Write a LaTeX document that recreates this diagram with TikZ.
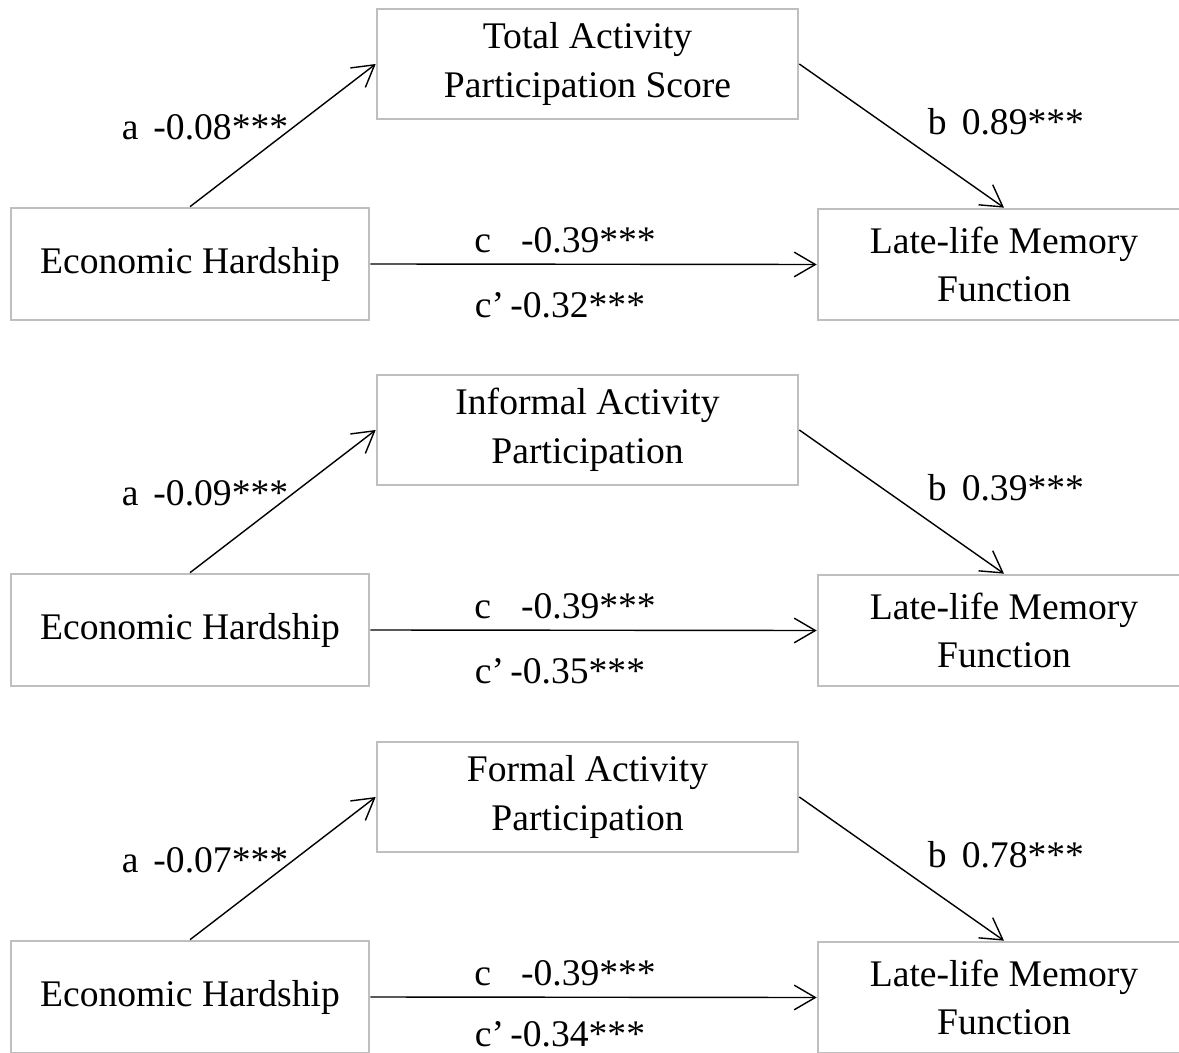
\documentclass[tikz,border=0pt]{standalone}
\usepackage{fontspec}
\setmainfont{Liberation Serif}
\usetikzlibrary{arrows.meta}
\begin{document}
\begin{tikzpicture}[x=0.02cm,y=-0.02cm,
  box/.style={draw=black!25,line width=1.5pt,fill=white,align=center,inner sep=0pt,
    font=\fontsize{21.4}{27.8}\selectfont},
  medbox/.style={box,minimum width=421*0.02cm,minimum height=110*0.02cm},
  ehbox/.style={box,minimum width=358*0.02cm,minimum height=112*0.02cm},
  lmbox/.style={box,minimum width=372*0.02cm,minimum height=111*0.02cm},
  path/.style={draw=black,line width=0.8pt,-{Straight Barb[length=12pt,width=14pt,line width=0.8pt]}},
  lab/.style={font=\fontsize{21.4}{27.8}\selectfont,inner sep=0pt}]
\useasboundingbox (0,0) rectangle (1179,1053);
\fill[white] (0,0) rectangle (1179,1053);
\clip (0,0) rectangle (1179,1053);
\foreach \i/\dy/\med/\va/\vb/\vcp/\ycp in {
  1/0/{Total Activity\\Participation Score}/-0.08/0.89/-0.32/305,
  2/366/{Informal Activity\\Participation}/-0.09/0.39/-0.35/671,
  3/733/{Formal Activity\\Participation}/-0.07/0.78/-0.34/1034}{
  \node[medbox] (med\i) at (587.5,64+\dy) {\med};
  \node[ehbox] (eh\i) at (190,264+\dy) {Economic Hardship};
  \node[lmbox] (lm\i) at (1004,264.5+\dy) {Late-life Memory\\Function};
  \draw[path] (eh\i.north) -- (med\i.west);
  \draw[path] (med\i.east) -- (lm\i.north);
  \draw[path] (eh\i.east) -- (lm\i.west);
  \node[lab] (la\i) at (205,127+\dy) {a\hspace{0.4em}\va***};
  \node[lab] (lb\i) at (1006,122+\dy) {b\hspace{0.4em}\vb***};
  \node[lab] (lc\i) at (565,240+\dy) {c\hspace{0.8em}-0.39***};
  \node[lab] (lcp\i) at (560,\ycp) {c’\,\vcp***};
}
\end{tikzpicture}
\end{document}
